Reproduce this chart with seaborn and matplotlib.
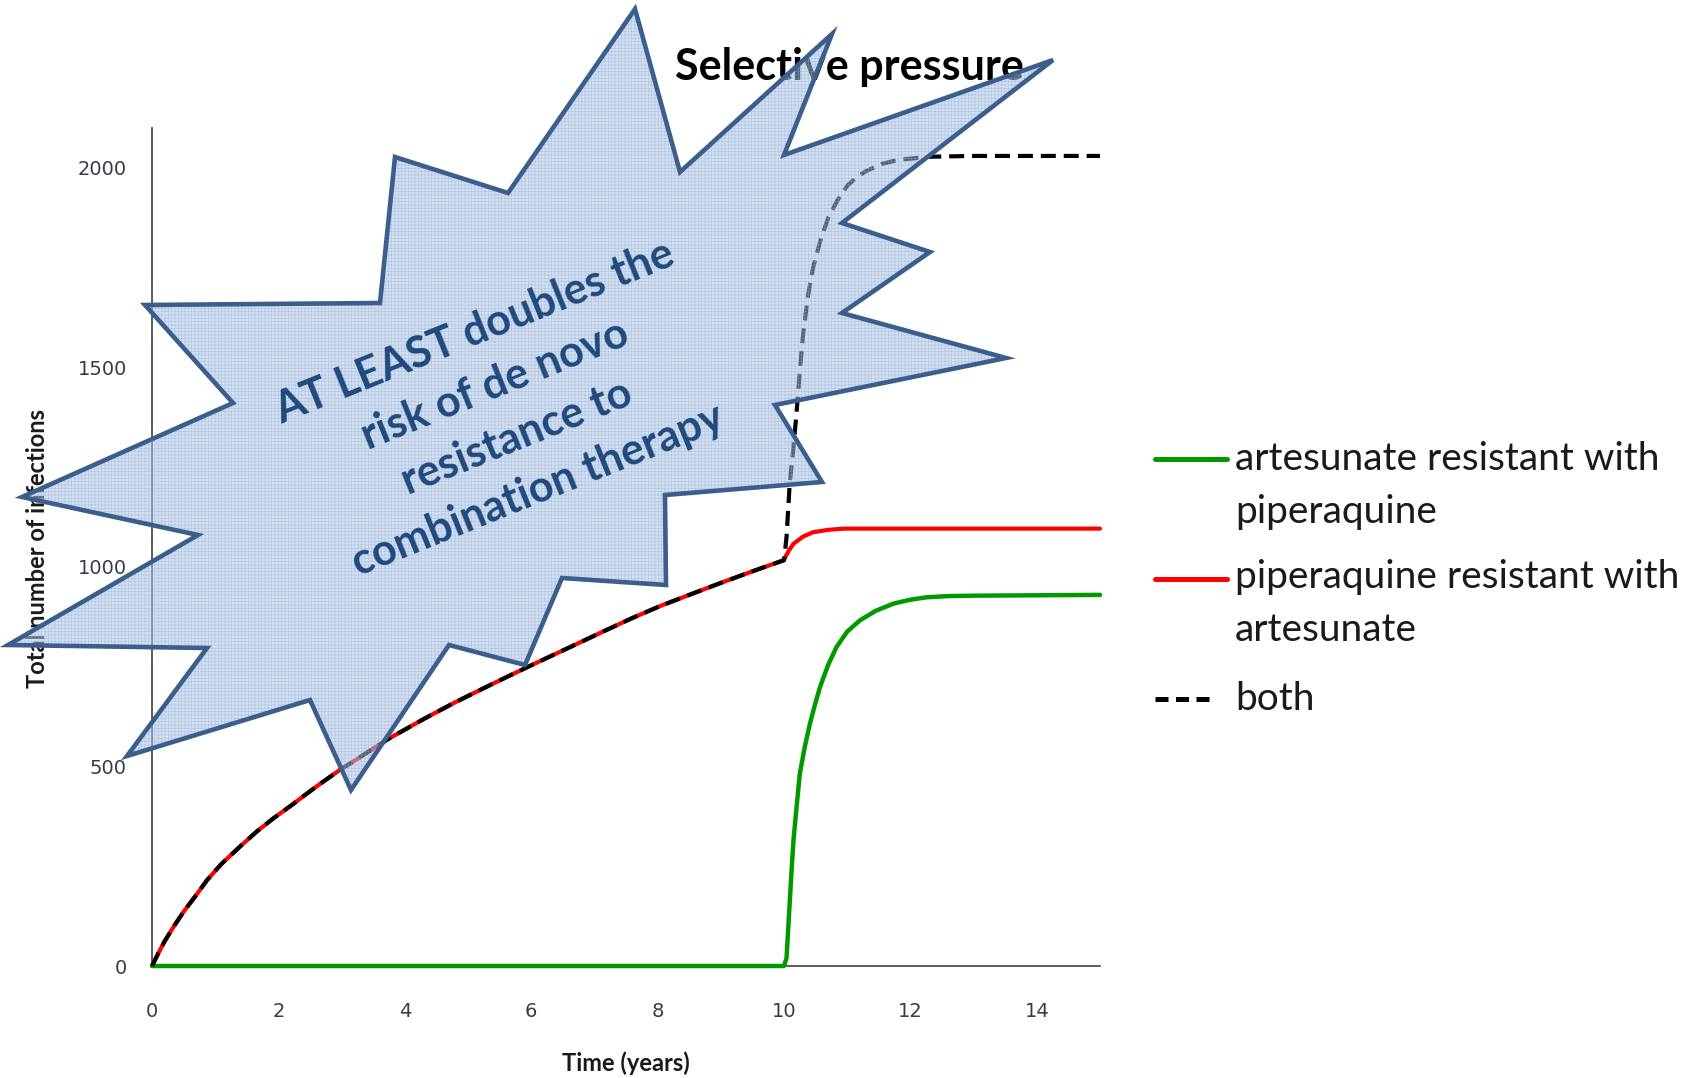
import matplotlib
matplotlib.use("Agg")
import matplotlib.pyplot as plt
from matplotlib.patches import Polygon
from matplotlib.lines import Line2D
import seaborn as sns

# ---- data: total number of infections over time (years) ----
# shared growth phase (years 0-10) of the piperaquine-resistant and "both" curves
t_early = [0, 0.1, 0.2, 0.34, 0.5, 0.7, 0.87, 1.1, 1.39, 1.65, 1.92, 2.2, 2.45, 2.7,
           2.97, 3.25, 3.5, 3.75, 4.03, 4.3, 4.56, 4.8, 5.08, 5.35, 5.61, 5.9, 6.14,
           6.6, 7.19, 7.6, 8.04, 8.5, 9.0, 9.5, 10]
y_early = [0, 32, 62, 98, 136, 178, 215, 256, 299, 336, 370, 402, 432, 461,
           491, 519, 545, 570, 595, 619, 641, 661, 683, 704, 724, 746, 764,
           798, 842, 872, 902, 930, 960, 989, 1017]

t_pip_late = [10.02, 10.05, 10.08, 10.15, 10.3, 10.46, 10.7, 10.94, 11.5, 13, 15]
pip_late = [1025, 1033, 1042, 1058, 1076, 1087, 1093, 1096, 1096, 1096, 1096]

t_both_late = [10.02, 10.04, 10.09, 10.15, 10.2, 10.25, 10.3, 10.38, 10.46, 10.58,
               10.7, 10.85, 11.0, 11.15, 11.3, 11.55, 11.8, 12.3, 13, 15]
both_late = [1045, 1075, 1208, 1300, 1390, 1490, 1580, 1680, 1750, 1820,
             1875, 1920, 1955, 1977, 1992, 2010, 2020, 2028, 2030, 2030]

t_art = [0, 10, 10.04, 10.08, 10.12, 10.15, 10.2, 10.25, 10.33, 10.41, 10.49, 10.57,
         10.7, 10.83, 11.0, 11.2, 11.45, 11.73, 12.0, 12.26, 12.6, 13, 15]
art_resistant = [0, 0, 20, 130, 240, 315, 400, 482, 550, 607, 655, 699,
                 755, 799, 838, 866, 890, 908, 918, 924, 927, 928, 930]

t_pip = t_early + t_pip_late
pip_resistant = y_early + pip_late
t_both = t_early + t_both_late
both_resistant = y_early + both_late

series_labels = ["artesunate resistant with\npiperaquine",
                 "piperaquine resistant with\nartesunate",
                 "both"]
x_ticks = [0, 2, 4, 6, 8, 10, 12, 14]
x_tick_labels = ["0", "2", "4", "6", "8", "10", "12", "14"]
y_ticks = [0, 500, 1000, 1500, 2000]
y_tick_labels = ["0", "500", "1000", "1500", "2000"]

title = "Selective pressure"
x_label = "Time (years)"
y_label = "Total number of infections"
callout = "AT LEAST doubles the\nrisk of de novo\nresistance to\ncombination therapy"

# ---- style ----
sns.set_theme(style="white")
plt.rcParams["font.family"] = ["Lato", "DejaVu Sans"]
plt.rcParams["hatch.linewidth"] = 0.45

GREEN, RED, BLACK = "#009a00", "#ff0000", "#000000"
DASH = (0, (3.6, 1.9))

W, H = 1699, 1078
fig = plt.figure(figsize=(W / 100, H / 100), dpi=100)
fig.patch.set_facecolor("white")


def fx(px):
    return px / W


def fy(py):
    return 1 - py / H


ax = fig.add_axes([fx(152), fy(966), fx(1100) - fx(152), fy(128) - fy(966)])
ax.set_facecolor("white")

sns.lineplot(x=t_pip, y=pip_resistant, ax=ax, color=RED, lw=3.0,
             estimator=None, sort=False, zorder=3, clip_on=False)
sns.lineplot(x=t_art, y=art_resistant, ax=ax, color=GREEN, lw=3.2,
             estimator=None, sort=False, zorder=4, clip_on=False)
sns.lineplot(x=t_both, y=both_resistant, ax=ax, color=BLACK, lw=3.0, linestyle=DASH,
             estimator=None, sort=False, zorder=5, clip_on=False)

ax.set_xlim(0, 15)
ax.set_ylim(0, 2100)
ax.set_xticks(x_ticks)
ax.set_xticklabels(x_tick_labels)
ax.set_yticks(y_ticks)
ax.set_yticklabels(y_tick_labels)
ax.set_xlabel("")
ax.set_ylabel("")
sns.despine(ax=ax)
for side in ("left", "bottom"):
    ax.spines[side].set_color("#404040")
    ax.spines[side].set_linewidth(1.2)
ax.tick_params(axis="both", length=0, labelcolor="#3a3a48")
for lab in ax.get_xticklabels() + ax.get_yticklabels():
    lab.set_fontfamily("DejaVu Sans")
    lab.set_fontsize(14)
ax.tick_params(axis="x", pad=26)
ax.tick_params(axis="y", pad=18)
ax.grid(False)

# axis titles and chart title
fig.text(fx(626), fy(1063), x_label, ha="center", va="center",
         fontsize=17, fontweight="bold", color="#1a1a1a")
fig.text(fx(38), fy(548), y_label, ha="center", va="center", rotation=90,
         fontsize=17, fontweight="bold", color="#1a1a1a")
fig.text(fx(849), fy(67), title, ha="center", va="center",
         fontsize=31, fontweight="bold", color="black", zorder=3)

# legend (label y is the baseline of the label's last line)
legend_rows = [
    (GREEN, "-", 1227, 459, 523, series_labels[0]),
    (RED, "-", 1227, 579, 641, series_labels[1]),
    (BLACK, (0, (2.6, 1.5)), 1215, 699, 710, series_labels[2]),
]
for color, ls, x_end, y_line, y_text, label in legend_rows:
    fig.add_artist(Line2D([fx(1155), fx(x_end)], [fy(y_line), fy(y_line)],
                          transform=fig.transFigure, color=color, lw=3.6,
                          linestyle=ls, solid_capstyle="round"))
    fig.text(fx(1235), fy(y_text), label, ha="left", va="baseline",
             fontsize=28, linespacing=1.59, color="#1a1a1a")

# starburst callout
burst_px = [(635, 9), (680, 172), (832, 34), (784, 155), (1053, 60), (842, 223),
            (930, 252), (842, 313), (1006, 358), (775, 405), (822, 482), (665, 495),
            (666, 585), (562, 578), (525, 665), (449, 645), (351, 790), (310, 700),
            (127, 756), (207, 648), (8, 645), (198, 535), (22, 497), (233, 403),
            (145, 305), (380, 303), (395, 157), (508, 193)]
burst = [(fx(x), fy(y)) for x, y in burst_px]

fig.add_artist(Polygon(burst, closed=True, transform=fig.transFigure,
                       facecolor="#a9c1e4", edgecolor="#8fa9d4", lw=0,
                       hatch="+++++", alpha=0.5, zorder=5))
fig.add_artist(Polygon(burst, closed=True, transform=fig.transFigure,
                       facecolor="none", edgecolor="#3b5e8c", lw=3.3,
                       joinstyle="miter", zorder=6))
fig.text(fx(506), fy(411), callout, ha="center", va="center", rotation=22,
         rotation_mode="anchor", multialignment="center", fontsize=31,
         fontweight="bold", color="#1f497d", linespacing=1.5, zorder=7)

fig.savefig("out.png", dpi=100, facecolor="white")
